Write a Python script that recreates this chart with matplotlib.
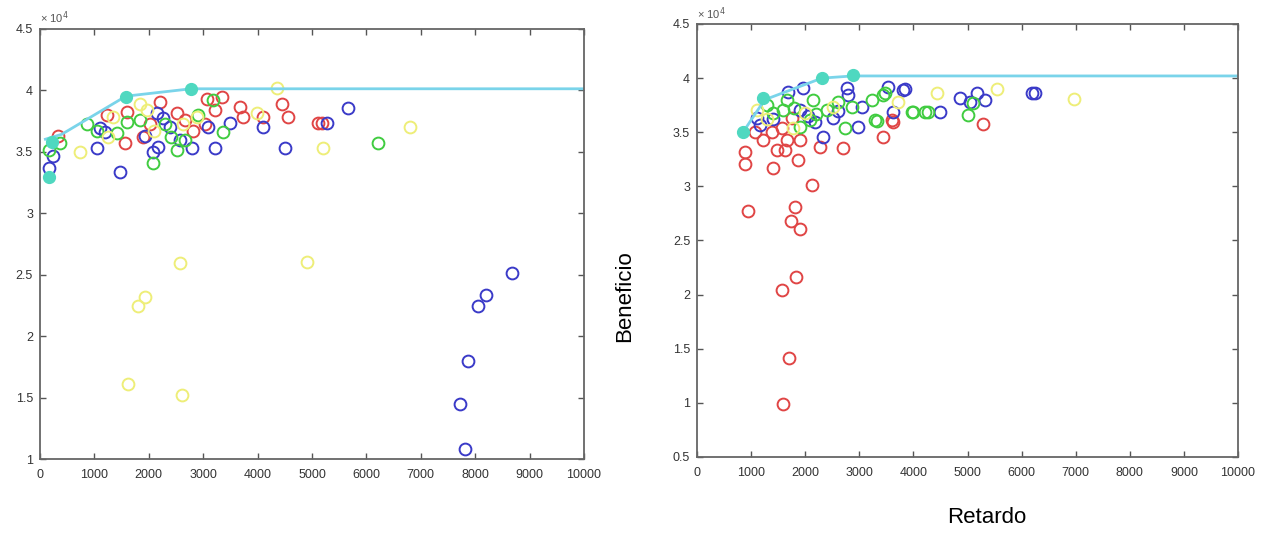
import matplotlib.pyplot as plt
from matplotlib.ticker import FuncFormatter

plt.rcParams['font.family'] = ['Liberation Sans', 'DejaVu Sans']

# Values, y in units of 1e4
# ---- left panel ----
L_red_x = [330, 1560, 1600, 2205, 2520, 3070, 3345, 3675, 3730, 4100, 4450, 4560, 5110, 5180, 2810,
           1230, 2020, 3030, 3220, 2665, 1900]
L_red_y = [3.63, 3.57, 3.82, 3.90, 3.81, 3.93, 3.94, 3.86, 3.78, 3.78, 3.89, 3.78, 3.73, 3.73, 3.67,
           3.80, 3.72, 3.72, 3.84, 3.76, 3.62]
L_blue_x = [165, 240, 1050, 1470, 1100, 2150, 2260, 2170, 2390, 2795, 3090, 3215, 4100, 4500, 2080,
            5275, 5660, 8675, 8200, 8050, 7870, 7720, 7810, 1930, 2570, 3490, 1200]
L_blue_y = [3.37, 3.46, 3.53, 3.33, 3.69, 3.81, 3.77, 3.54, 3.70, 3.53, 3.70, 3.53, 3.70, 3.53, 3.50,
            3.73, 3.85, 2.51, 2.33, 2.24, 1.80, 1.45, 1.08, 3.63, 3.59, 3.73, 3.66]
L_green_x = [370, 865, 1050, 1415, 2080, 2520, 2665, 3180, 3365, 1600, 6210, 1840, 2300, 2900, 165,
             2400]
L_green_y = [3.57, 3.72, 3.67, 3.65, 3.41, 3.51, 3.59, 3.92, 3.66, 3.74, 3.57, 3.76, 3.72, 3.80, 3.51,
             3.62]
L_yellow_x = [735, 1250, 1840, 1965, 2630, 2885, 3990, 4355, 6800, 5200, 2575, 4905, 1930, 1800,
              1620, 2610, 1340, 2100]
L_yellow_y = [3.50, 3.62, 3.89, 3.84, 3.72, 3.78, 3.81, 4.02, 3.70, 3.53, 2.59, 2.60, 2.32, 2.24,
              1.61, 1.52, 3.78, 3.67]
L_front_x = [165, 220, 1580, 2775]
L_front_y = [3.29, 3.58, 3.94, 4.01]
L_line_x = [100, 400, 1580, 2775, 10000]
L_line_y = [3.60, 3.64, 3.95, 4.01, 4.01]

# ---- right panel ----
R_red_x = [890, 890, 1405, 1870, 2125, 945, 1810, 1735, 1905, 1480, 1625, 1220, 1070, 1385, 1665,
           1905, 1755, 2270, 2700, 3440, 3600, 1570, 1830, 1570, 1700, 1590, 5285, 3620]
R_red_y = [3.32, 3.21, 3.17, 3.24, 3.01, 2.77, 2.81, 2.68, 2.61, 3.34, 3.34, 3.43, 3.50, 3.50, 3.43,
           3.43, 3.63, 3.36, 3.35, 3.46, 3.61, 3.54, 2.16, 2.04, 1.41, 0.99, 3.58, 3.59]
R_blue_x = [1110, 1165, 1680, 1960, 1905, 2180, 2330, 2515, 2770, 2790, 3050, 2975, 3530, 3810, 3620,
            3845, 4490, 4860, 5175, 5320, 5045, 6200, 6250, 1400, 2050, 2600]
R_blue_y = [3.63, 3.57, 3.87, 3.91, 3.71, 3.59, 3.46, 3.63, 3.91, 3.84, 3.73, 3.55, 3.92, 3.89, 3.69,
            3.90, 3.69, 3.82, 3.86, 3.80, 3.78, 3.86, 3.86, 3.62, 3.65, 3.70]
R_green_x = [1405, 1665, 1905, 2090, 2400, 2735, 2865, 3235, 3325, 3440, 3990, 4215, 2145, 1590,
             3475, 3290, 3975, 4270, 5010, 5100, 1300, 1800, 2200, 2600]
R_green_y = [3.68, 3.80, 3.55, 3.61, 3.71, 3.54, 3.73, 3.80, 3.60, 3.84, 3.69, 3.69, 3.80, 3.71,
             3.86, 3.61, 3.69, 3.69, 3.66, 3.77, 3.75, 3.72, 3.67, 3.78]
R_yellow_x = [4435, 5545, 3715, 6970, 2515, 1775, 1110, 2000, 1300]
R_yellow_y = [3.86, 3.90, 3.78, 3.81, 3.73, 3.54, 3.71, 3.68, 3.62]
R_front_x = [850, 1220, 2310, 2880]
R_front_y = [3.50, 3.82, 4.00, 4.03]
R_line_x = [850, 1250, 2310, 2880, 10000]
R_line_y = [3.50, 3.80, 4.00, 4.02, 4.02]

y_ticks_left = [1, 1.5, 2, 2.5, 3, 3.5, 4, 4.5]
y_ticks_right = [0.5, 1, 1.5, 2, 2.5, 3, 3.5, 4, 4.5]
x_ticks = [0, 1000, 2000, 3000, 4000, 5000, 6000, 7000, 8000, 9000, 10000]

c_red = '#e04545'
c_blue = '#3a3ac8'
c_green = '#40cc40'
c_yellow = '#eeee78'
c_front = '#4fd8c0'
c_line = '#7ad4ea'

fig = plt.figure(figsize=(12.65, 5.33), dpi=100)
ax1 = fig.add_axes([0.0316, 0.1388, 0.4301, 0.8077])
ax2 = fig.add_axes([0.551, 0.1426, 0.4277, 0.8124])


def draw(ax, red, blue, green, yellow, front, line, yticks, ylim):
    mk = dict(ls='none', marker='o', ms=8.5, mfc='none', mew=1.4)
    ax.plot(red[0], [v * 1e4 for v in red[1]], mec=c_red, **mk)
    ax.plot(blue[0], [v * 1e4 for v in blue[1]], mec=c_blue, **mk)
    ax.plot(green[0], [v * 1e4 for v in green[1]], mec=c_green, **mk)
    ax.plot(yellow[0], [v * 1e4 for v in yellow[1]], mec=c_yellow, **mk)
    ax.plot(line[0], [v * 1e4 for v in line[1]], color=c_line, lw=2)
    ax.plot(front[0], [v * 1e4 for v in front[1]], ls='none', marker='o', ms=8.5,
            mfc=c_front, mec=c_front)
    ax.set_xlim(0, 10000)
    ax.set_ylim(ylim[0] * 1e4, ylim[1] * 1e4)
    ax.set_xticks(x_ticks)
    ax.set_yticks([t * 1e4 for t in yticks])
    ax.yaxis.set_major_formatter(FuncFormatter(lambda v, p: '%g' % (v / 1e4)))
    ax.tick_params(direction='in', top=True, right=True, length=4, width=1,
                   labelsize=9, colors='#555555', labelcolor='#333333', pad=5)
    ax.tick_params(axis='x', pad=7)
    for s in ax.spines.values():
        s.set_color('#666666')
        s.set_linewidth(1.3)
    ax.text(0.0, 1.005, '× 10$^4$', transform=ax.transAxes, fontsize=8,
            color='#555555', ha='left', va='bottom')


draw(ax1, (L_red_x, L_red_y), (L_blue_x, L_blue_y), (L_green_x, L_green_y),
     (L_yellow_x, L_yellow_y), (L_front_x, L_front_y), (L_line_x, L_line_y),
     y_ticks_left, (1, 4.5))
draw(ax2, (R_red_x, R_red_y), (R_blue_x, R_blue_y), (R_green_x, R_green_y),
     (R_yellow_x, R_yellow_y), (R_front_x, R_front_y), (R_line_x, R_line_y),
     y_ticks_right, (0.5, 4.5))

fig.text(0.494, 0.445, 'Beneficio', rotation=90, fontsize=16, ha='center', va='center')
fig.text(0.780, 0.030, 'Retardo', fontsize=16, ha='center', va='center')

fig.savefig('out.png', dpi=100)
